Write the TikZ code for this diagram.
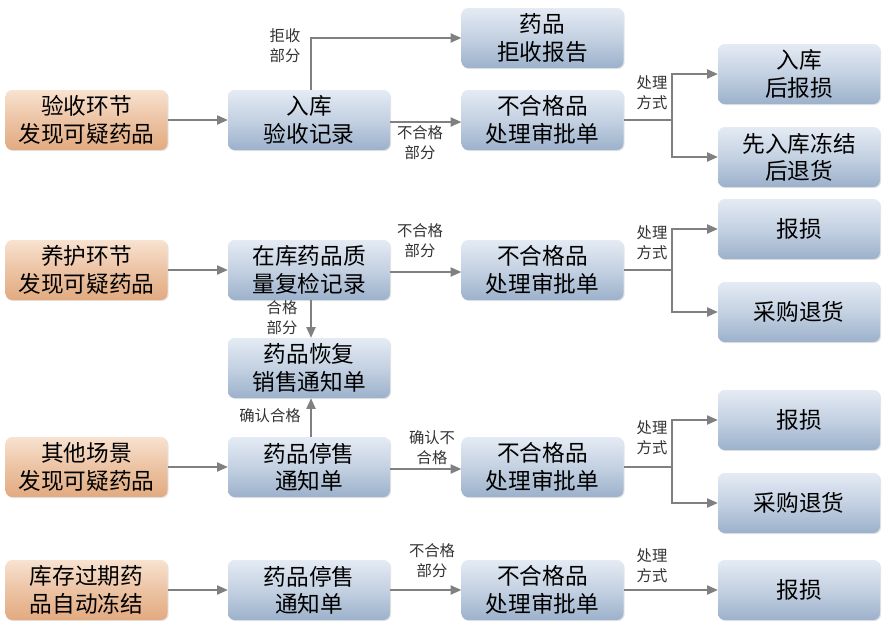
\documentclass[tikz,border=0pt]{standalone}
\usepackage{fontspec}
\newfontfamily\cjk{Noto Sans CJK SC}
\usetikzlibrary{arrows.meta,shadows}
\definecolor{otop}{HTML}{F8E2D0}
\definecolor{obot}{HTML}{E2AA80}
\definecolor{btop}{HTML}{E4EBF4}
\definecolor{bbot}{HTML}{9CB1CB}
\definecolor{lnc}{HTML}{808080}
\begin{document}
\begin{tikzpicture}[x=0.75pt,y=-0.75pt,
 box/.style={rounded corners=5pt, minimum width=121.5pt, minimum height=45pt, align=center,
   font=\cjk\fontsize{17}{20.5}\selectfont, inner sep=0pt,
   drop shadow={opacity=0.2, shadow xshift=0.8pt, shadow yshift=-0.8pt}},
 obox/.style={box, top color=otop, bottom color=obot, middle color=obot!55!otop},
 bbox/.style={box, top color=btop, bottom color=bbot, middle color=bbot!45!btop},
 line/.style={draw=lnc, line width=0.8pt},
 conn/.style={line, -{Triangle[length=8pt,width=7pt]}},
 lbl/.style={font=\cjk\fontsize{11.5}{15}\selectfont, align=center, text=black!80, inner sep=1pt}
]
\useasboundingbox[fill=white] (0,0) rectangle (889,629);
% column 1
\node[obox] (a1) at (86.5,120) {验收环节\\发现可疑药品};
\node[obox] (a2) at (86.5,270) {养护环节\\发现可疑药品};
\node[obox] (a3) at (86.5,467) {其他场景\\发现可疑药品};
\node[obox] (a4) at (86.5,590) {库存过期药\\品自动冻结};
% column 2
\node[bbox] (b1) at (309,120) {入库\\验收记录};
\node[bbox] (b2) at (309,270) {在库药品质\\量复检记录};
\node[bbox] (bm) at (309,368) {药品恢复\\销售通知单};
\node[bbox] (b3) at (309,467) {药品停售\\通知单};
\node[bbox] (b4) at (309,590) {药品停售\\通知单};
% column 3
\node[bbox] (rf) at (542.5,38) {药品\\拒收报告};
\node[bbox] (c1) at (542.5,120) {不合格品\\处理审批单};
\node[bbox] (c2) at (542.5,270) {不合格品\\处理审批单};
\node[bbox] (c3) at (542.5,467) {不合格品\\处理审批单};
\node[bbox] (c4) at (542.5,590) {不合格品\\处理审批单};
% column 4
\node[bbox] (d1) at (799,74) {入库\\后报损};
\node[bbox] (d2) at (799,157) {先入库冻结\\后退货};
\node[bbox] (d3) at (799,229) {报损};
\node[bbox] (d4) at (799,312) {采购退货};
\node[bbox] (d5) at (799,420) {报损};
\node[bbox] (d6) at (799,503) {采购退货};
\node[bbox] (d7) at (799,590) {报损};
% row 1
\draw[conn] (a1) -- (b1);
\draw[conn] ([xshift=1.5pt]b1.north) |- (rf.west);
\node[lbl] (l1) at (285,46) {拒收\\部分};
\draw[conn] ([yshift=-1.5pt]b1.east) -- ([yshift=-1.5pt]c1.west);
\node[lbl] (l2) at (420,143) {不合格\\部分};
\coordinate (k1) at (672,120);
\draw[line] (c1.east) -- (k1);
\draw[conn] (k1) |- (d1.west);
\draw[conn] (k1) |- (d2.west);
\node[lbl] (l3) at (652,93) {处理\\方式};
% row 2
\draw[conn] (a2) -- (b2);
\draw[conn] ([yshift=-1.5pt]b2.east) -- ([yshift=-1.5pt]c2.west);
\node[lbl] (l4) at (420,241) {不合格\\部分};
\draw[conn] ([xshift=1.5pt]b2.south) -- ([xshift=1.5pt]bm.north);
\node[lbl] (l5) at (282,318) {合格\\部分};
\coordinate (k2) at (672,270);
\draw[line] (c2.east) -- (k2);
\draw[conn] (k2) |- (d3.west);
\draw[conn] (k2) |- (d4.west);
\node[lbl] (l6) at (652,243) {处理\\方式};
% row 3
\draw[conn] (a3) -- (b3);
\draw[conn] ([xshift=1.5pt]b3.north) -- ([xshift=1.5pt]bm.south);
\node[lbl] (l7) at (270,416) {确认合格};
\draw[conn] ([yshift=-1.5pt]b3.east) -- ([yshift=-1.5pt]c3.west);
\node[lbl] (l8) at (432,448) {确认不\\合格};
\coordinate (k3) at (672,467);
\draw[line] (c3.east) -- (k3);
\draw[conn] (k3) |- (d5.west);
\draw[conn] (k3) |- (d6.west);
\node[lbl] (l9) at (652,438) {处理\\方式};
% row 4
\draw[conn] (a4) -- (b4);
\draw[conn] (b4) -- (c4);
\node[lbl] (l10) at (432,561) {不合格\\部分};
\draw[conn] (c4) -- (d7);
\node[lbl] (l11) at (652,566) {处理\\方式};
\end{tikzpicture}
\end{document}
